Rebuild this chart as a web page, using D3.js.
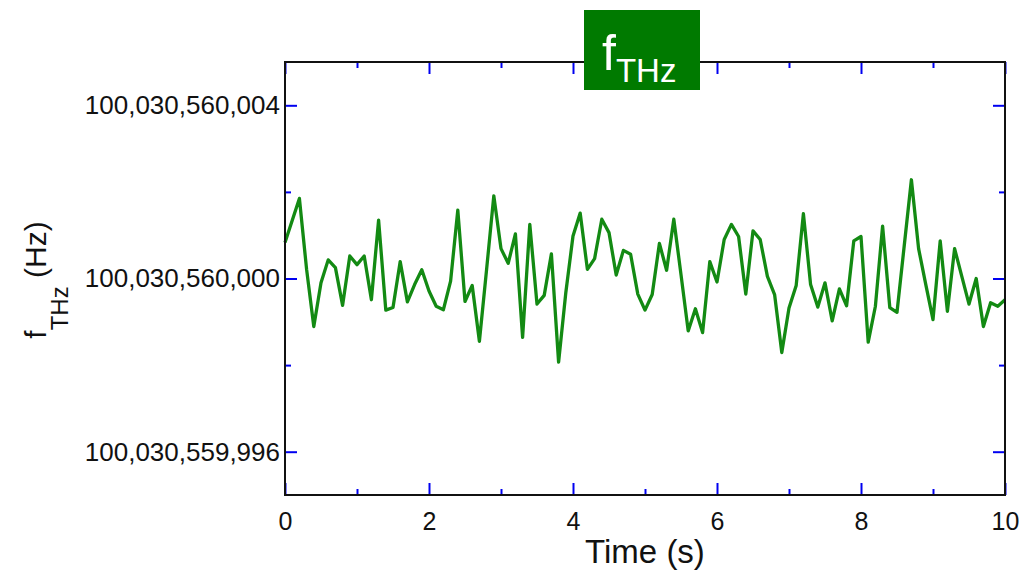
<!DOCTYPE html>
<html>
<head>
<meta charset="utf-8">
<script src="https://cdn.jsdelivr.net/npm/d3@7"></script>
<style>
	body { margin: 0; background: #fff; }
	svg { display: block; font-family: "Liberation Sans", Arial, sans-serif; }
</style>
</head>
<body>
<div id="idContent"></div>
<script>
// base frequency, the series is stored as offset from it (Hz)
var nBaseHz = 100030560000;

var aOffsetHz = [
	0.83, 1.34, 1.85, 0.21, -1.11, -0.10, 0.43, 0.25, -0.62, 0.52,
	0.32, 0.52, -0.49, 1.35, -0.73, -0.67, 0.39, -0.54, -0.14, 0.20,
	-0.29, -0.64, -0.72, -0.06, 1.58, -0.53, -0.16, -1.45, 0.21, 1.91,
	0.69, 0.35, 1.03, -1.36, 1.25, -0.59, -0.39, 0.57, -1.93, -0.33,
	0.98, 1.51, 0.21, 0.46, 1.37, 1.06, 0.08, 0.65, 0.56, -0.36,
	-0.73, -0.37, 0.81, 0.19, 1.37, 0.09, -1.21, -0.70, -1.25, 0.39,
	-0.08, 0.90, 1.25, 0.97, -0.36, 1.10, 0.90, 0.05, -0.37, -1.71,
	-0.68, -0.16, 1.50, -0.14, -0.66, -0.10, -0.98, -0.24, -0.63, 0.87,
	0.97, -1.47, -0.64, 1.21, -0.67, -0.78, 0.75, 2.28, 0.69, -0.14,
	-0.95, 0.87, -0.76, 0.69, 0.05, -0.59, 0.00, -1.11, -0.56, -0.64,
	-0.49
];

// sampled every 0.1 s
var aTime = d3.range(aOffsetHz.length).map(function (i) { return i / 10; });

var aXMajor = [0, 2, 4, 6, 8, 10];
var aXMinor = [1, 3, 5, 7, 9];
var aYMajor = [nBaseHz - 4, nBaseHz, nBaseHz + 4];
var aYMinor = [nBaseHz - 2, nBaseHz + 2];
var aXDomain = [0, 10];
var aYDomain = [nBaseHz - 5, nBaseHz + 5];

function createGraph() {
	var margin = { top: 62, right: 14, bottom: 82, left: 285 },
		width = 1019 - margin.left - margin.right,
		height = 577 - margin.top - margin.bottom;

	var svg = d3.select("#idContent").append("svg")
		.attr("width", 1019)
		.attr("height", 577);

	var oChart = svg.append("g")
		.attr("transform", "translate(" + margin.left + "," + margin.top + ")");

	var x = d3.scaleLinear().domain(aXDomain).range([0, width]);
	var y = d3.scaleLinear().domain(aYDomain).range([height, 0]);

	// inward ticks on all four sides
	function addTicks(oAxis, aValues, nSize, sTransform) {
		var g = oChart.append("g")
			.attr("class", "ticks")
			.call(oAxis.tickValues(aValues).tickSize(-nSize).tickFormat(""));
		if (sTransform) g.attr("transform", sTransform);
		g.select(".domain").remove();
		g.selectAll("line").attr("stroke", "#0000f0").attr("stroke-width", 2);
	}
	addTicks(d3.axisBottom(x), aXMajor, 12, "translate(0," + height + ")");
	addTicks(d3.axisBottom(x), aXMinor, 6, "translate(0," + height + ")");
	addTicks(d3.axisTop(x), aXMajor, 12);
	addTicks(d3.axisTop(x), aXMinor, 6);
	addTicks(d3.axisLeft(y), aYMajor, 12);
	addTicks(d3.axisLeft(y), aYMinor, 6);
	addTicks(d3.axisRight(y), aYMajor, 12, "translate(" + width + ",0)");
	addTicks(d3.axisRight(y), aYMinor, 6, "translate(" + width + ",0)");

	// tick labels
	var gX = oChart.append("g")
		.attr("transform", "translate(0," + height + ")")
		.call(d3.axisBottom(x).tickValues(aXMajor).tickSize(0).tickPadding(17).tickFormat(d3.format("d")));
	gX.select(".domain").remove();
	gX.selectAll("text").attr("font-size", 25).attr("fill", "#111").style("font-family", "'Liberation Sans', Arial, sans-serif");

	var gY = oChart.append("g")
		.call(d3.axisLeft(y).tickValues(aYMajor).tickSize(0).tickPadding(5).tickFormat(d3.format(",")));
	gY.select(".domain").remove();
	gY.selectAll("text").attr("font-size", 26).attr("fill", "#111").style("font-family", "'Liberation Sans', Arial, sans-serif");

	// data line
	var line = d3.line()
		.x(function (d, i) { return x(aTime[i]); })
		.y(function (d) { return y(nBaseHz + d); });

	oChart.append("path")
		.datum(aOffsetHz)
		.attr("fill", "none")
		.attr("stroke", "#138a13")
		.attr("stroke-width", 3.3)
		.attr("stroke-linejoin", "round")
		.attr("d", line);

	// frame
	oChart.append("rect")
		.attr("width", width)
		.attr("height", height)
		.attr("fill", "none")
		.attr("stroke", "#111")
		.attr("stroke-width", 2);

	// axis titles
	svg.append("text")
		.attr("x", margin.left + width / 2)
		.attr("y", 563)
		.attr("text-anchor", "middle")
		.attr("font-size", 33)
		.attr("fill", "#111")
		.text("Time (s)");

	var oYLabel = svg.append("text")
		.attr("transform", "translate(46,280) rotate(-90)")
		.attr("text-anchor", "middle")
		.attr("fill", "#111");
	oYLabel.append("tspan").attr("font-size", 30).text("f");
	oYLabel.append("tspan").attr("font-size", 24).attr("dy", 22).text("THz");
	oYLabel.append("tspan").attr("font-size", 30).attr("dy", -22).text("\u00a0(Hz)");

	// title badge
	svg.append("rect")
		.attr("x", 584).attr("y", 10)
		.attr("width", 116).attr("height", 80)
		.attr("fill", "#007a00");
	var oTitle = svg.append("text")
		.attr("x", 602).attr("y", 70)
		.attr("fill", "#fff");
	oTitle.append("tspan").attr("font-size", 50).text("f");
	oTitle.append("tspan").attr("font-size", 33).attr("dy", 12).text("THz");
}

createGraph();
</script>
</body>
</html>
